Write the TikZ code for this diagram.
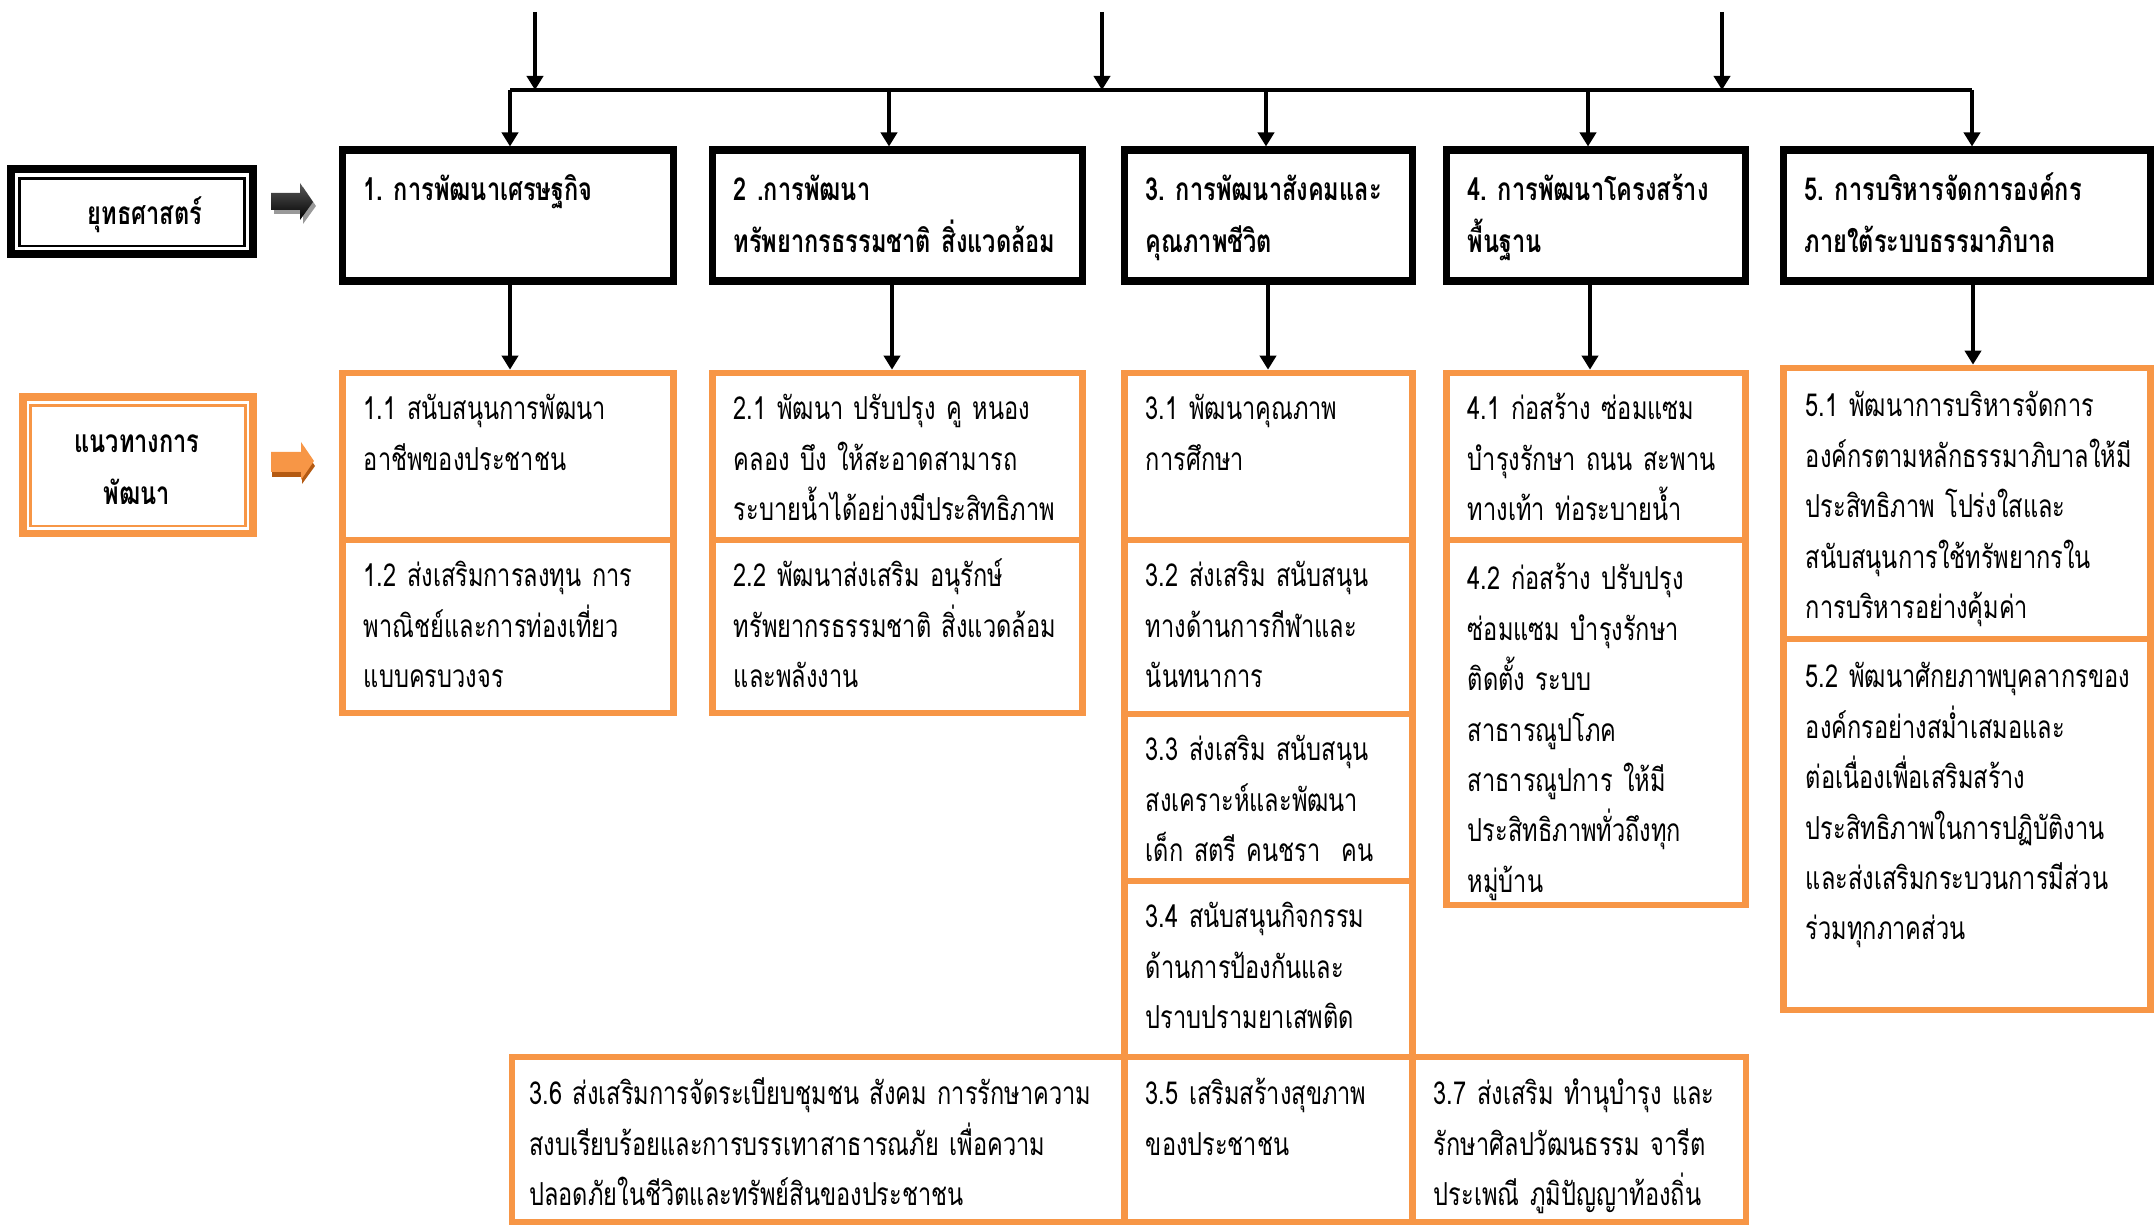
\documentclass[tikz,border=0pt]{standalone}
\usepackage{fontspec}
\newfontfamily\thaifont[Script=Thai,FakeStretch=0.745,WordSpace=0.72]{Loma}
\usetikzlibrary{arrows.meta,fit}
\definecolor{accent}{HTML}{F79646}
\definecolor{accentdark}{HTML}{B45A12}
\frenchspacing

\begin{document}
\begin{tikzpicture}[x=0.01cm,y=-0.01cm,
  headbox/.style={draw=black,line width=2pt,inner sep=0pt},
  subbox/.style={draw=accent,line width=1.9pt,inner sep=0pt},
  headtext/.style={anchor=base west,inner sep=0pt,text width=6cm,align=left,
    font=\thaifont\bfseries\fontsize{9}{14.7}\selectfont},
  subtext/.style={anchor=base west,inner sep=0pt,text width=6cm,align=left,
    font=\thaifont\fontsize{9}{14.35}\selectfont},
  link/.style={line width=1pt},
  arrow/.style={link,-{Triangle[length=4pt,width=4.6pt]}}]
\useasboundingbox (0,0) rectangle (2154,1228);

% left labels
\node[draw=black,line width=2.3pt,inner sep=0pt,fit={(11,169) (253,254)}] (lblstrat) {};
\draw[line width=0.7pt] (19.5,178.5) rectangle (244.5,246);
\node[font=\thaifont\bfseries\fontsize{9}{14.7}\selectfont] (strat) at (145,215) {ยุทธศาสตร์};
\node[draw=accent,line width=2.1pt,inner sep=0pt,fit={(23,397) (253,533.5)}] (lblguide) {};
\draw[accent,line width=0.7pt] (30.7,405.3) rectangle (245.5,526);
\node[align=center,font=\thaifont\bfseries\fontsize{9}{14.7}\selectfont] (guide) at (137,470) {แนวทางการ\\พัฒนา};

% block arrows
\fill[black!40] (274,197) -- (303,197) -- (303,187) -- (316,206) -- (303,224) -- (303,214) -- (274,214) -- cycle;
\shade[top color=black!65,bottom color=black] (271,193) -- (300,193) -- (300,183) -- (313,202) -- (300,220) -- (300,210) -- (271,210) -- cycle;
\fill[accentdark] (272,457) -- (302,457) -- (302,447) -- (315,466) -- (302,484) -- (302,477) -- (272,477) -- cycle;
\fill[accent] (271,452) -- (301,452) -- (301,442) -- (314,461) -- (301,480) -- (301,472) -- (271,472) -- cycle;

% strategies
\foreach \n/\a/\b in {b1/342.5/673.5,b2/712.5/1082.5,b3/1124.5/1412.5,b4/1446.5/1745.5,b5/1783.5/2150.5}
  \node[headbox,fit={(\a,150) (\b,281)}] (\n) {};
\node[headtext] (t1) at ([shift={(24,54)}]b1.north west) {1. การพัฒนาเศรษฐกิจ};
\node[headtext] (t2) at ([shift={(24,54)}]b2.north west) {2 .การพัฒนา\\ทรัพยากรธรรมชาติ สิ่งแวดล้อม};
\node[headtext] (t3) at ([shift={(24,54)}]b3.north west) {3. การพัฒนาสังคมและ\\คุณภาพชีวิต};
\node[headtext] (t4) at ([shift={(24,54)}]b4.north west) {4. การพัฒนาโครงสร้าง\\พื้นฐาน};
\node[headtext] (t5) at ([shift={(24,54)}]b5.north west) {5. การบริหารจัดการองค์กร\\ภายใต้ระบบธรรมาภิบาล};

% development guidelines
\node[subbox,fit={(342.5,373) (673.5,540)}] (s11) {};
\node[subbox,fit={(342.5,540) (673.5,713)}] (s12) {};
\node[subbox,fit={(712.5,373) (1082.5,540)}] (s21) {};
\node[subbox,fit={(712.5,540) (1082.5,713)}] (s22) {};
\node[subbox,fit={(1124.5,373) (1412.5,540)}] (s31) {};
\node[subbox,fit={(1124.5,540) (1412.5,714)}] (s32) {};
\node[subbox,fit={(1124.5,714) (1412.5,881)}] (s33) {};
\node[subbox,fit={(1124.5,881) (1412.5,1057)}] (s34) {};
\node[subbox,fit={(1124.5,1057) (1412.5,1222)}] (s35) {};
\node[subbox,fit={(512,1057) (1124.5,1222)}] (s36) {};
\node[subbox,fit={(1412.5,1057) (1746,1222)}] (s37) {};
\node[subbox,fit={(1446.5,373) (1745.5,540)}] (s41) {};
\node[subbox,fit={(1446.5,540) (1745.5,905)}] (s42) {};
\node[subbox,fit={(1783.5,368) (2150.5,639)}] (s51) {};
\node[subbox,fit={(1783.5,639) (2150.5,1010)}] (s52) {};

\node[subtext] (u11) at ([shift={(24,50)}]s11.north west) {1.1 สนับสนุนการพัฒนา\\อาชีพของประชาชน};
\node[subtext] (u12) at ([shift={(24,50)}]s12.north west) {1.2 ส่งเสริมการลงทุน การ\\พาณิชย์และการท่องเที่ยว\\แบบครบวงจร};
\node[subtext] (u21) at ([shift={(24,50)}]s21.north west) {2.1 พัฒนา ปรับปรุง คู หนอง\\คลอง บึง ให้สะอาดสามารถ\\ระบายน้ำได้อย่างมีประสิทธิภาพ};
\node[subtext] (u22) at ([shift={(24,50)}]s22.north west) {2.2 พัฒนาส่งเสริม อนุรักษ์\\ทรัพยากรธรรมชาติ สิ่งแวดล้อม\\และพลังงาน};
\node[subtext] (u31) at ([shift={(24,50)}]s31.north west) {3.1 พัฒนาคุณภาพ\\การศึกษา};
\node[subtext] (u32) at ([shift={(24,50)}]s32.north west) {3.2 ส่งเสริม สนับสนุน\\ทางด้านการกีฬาและ\\นันทนาการ};
\node[subtext] (u33) at ([shift={(24,50)}]s33.north west) {3.3 ส่งเสริม สนับสนุน\\สงเคราะห์และพัฒนา\\เด็ก สตรี คนชรา~ คน};
\node[subtext] (u34) at ([shift={(24,50)}]s34.north west) {3.4 สนับสนุนกิจกรรม\\ด้านการป้องกันและ\\ปราบปรามยาเสพติด};
\node[subtext] (u35) at ([shift={(24,51)}]s35.north west) {3.5 เสริมสร้างสุขภาพ\\ของประชาชน};
\node[subtext,text width=7cm] (u36) at ([shift={(20,51)}]s36.north west) {3.6 ส่งเสริมการจัดระเบียบชุมชน สังคม การรักษาความ\\สงบเรียบร้อยและการบรรเทาสาธารณภัย เพื่อความ\\ปลอดภัยในชีวิตและทรัพย์สินของประชาชน};
\node[subtext] (u37) at ([shift={(24,51)}]s37.north west) {3.7 ส่งเสริม ทำนุบำรุง และ\\รักษาศิลปวัฒนธรรม จารีต\\ประเพณี ภูมิปัญญาท้องถิ่น};
\node[subtext] (u41) at ([shift={(24,50)}]s41.north west) {4.1 ก่อสร้าง ซ่อมแซม\\บำรุงรักษา ถนน สะพาน\\ทางเท้า ท่อระบายน้ำ};
\node[subtext] (u42) at ([shift={(24,53)}]s42.north west) {4.2 ก่อสร้าง ปรับปรุง\\ซ่อมแซม บำรุงรักษา\\ติดตั้ง ระบบ\\สาธารณูปโภค\\สาธารณูปการ ให้มี\\ประสิทธิภาพทั่วถึงทุก\\หมู่บ้าน};
\node[subtext] (u51) at ([shift={(25,52)}]s51.north west) {5.1 พัฒนาการบริหารจัดการ\\องค์กรตามหลักธรรมาภิบาลให้มี\\ประสิทธิภาพ โปร่งใสและ\\สนับสนุนการใช้ทรัพยากรใน\\การบริหารอย่างคุ้มค่า};
\node[subtext] (u52) at ([shift={(25,52)}]s52.north west) {5.2 พัฒนาศักยภาพบุคลากรของ\\องค์กรอย่างสม่ำเสมอและ\\ต่อเนื่องเพื่อเสริมสร้าง\\ประสิทธิภาพในการปฏิบัติงาน\\และส่งเสริมกระบวนการมีส่วน\\ร่วมทุกภาคส่วน};

% connectors
\coordinate (bus) at (0,90);
\draw[link] (510,90) -- (1972,90);
\foreach \x [count=\i] in {535,1102,1722} {
  \coordinate (in\i) at (\x,12);
  \draw[arrow] (in\i) -- (in\i |- bus);
}
\foreach \b/\x in {b1/510,b2/889,b3/1266,b4/1588,b5/1972}
  \draw[arrow] (\x,0 |- bus) -- (\x,0 |- \b.north);
\foreach \a/\b/\x in {b1/s11/510,b2/s21/892,b3/s31/1268,b4/s41/1590,b5/s51/1973}
  \draw[arrow] (\x,0 |- \a.south) -- (\x,0 |- \b.north);

\end{tikzpicture}
\end{document}
